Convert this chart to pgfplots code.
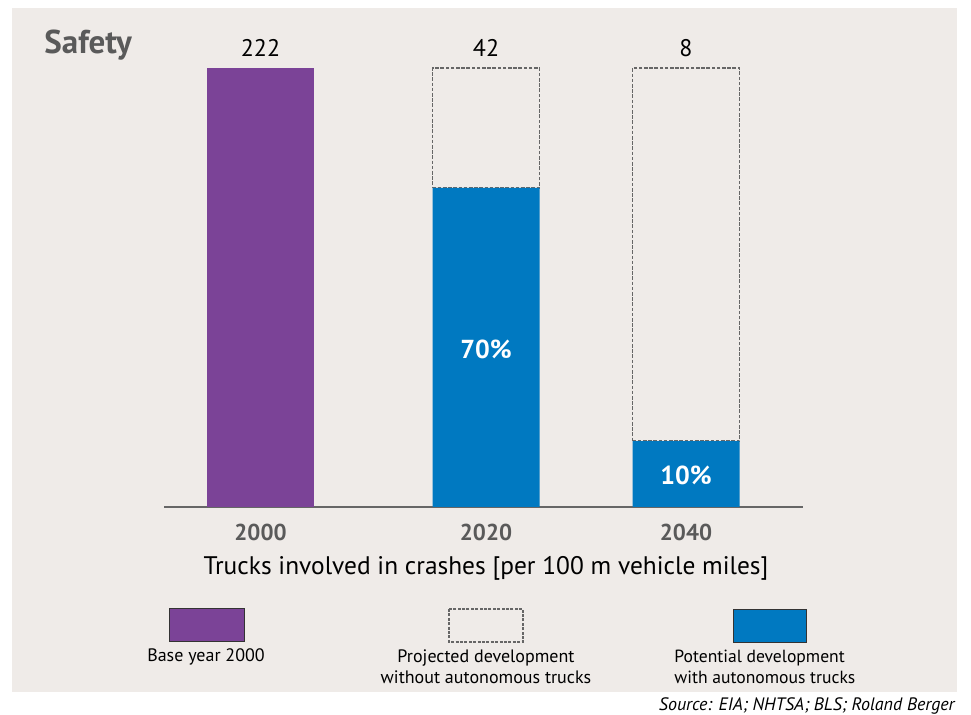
\documentclass[border=0pt]{standalone}
\usepackage{pgfplots}
\pgfplotsset{compat=1.18}
\usepackage{fontspec}
\setmainfont{PT Sans}
\definecolor{bgc}{HTML}{EFEBE8}
\definecolor{cpurple}{HTML}{7B4397}
\definecolor{cblue}{HTML}{0079C1}
\definecolor{tgray}{HTML}{5A5A5A}
\definecolor{dgray}{HTML}{666666}
\begin{document}
\begin{tikzpicture}
\begin{scope}[x=0.5pt,y=-0.5pt]
  \useasboundingbox (0,0) rectangle (971,715);
  \fill[bgc] (12,8) rectangle (957,692);
\end{scope}
\pgfplotsset{base/.style={
  at={(82pt,-253.5pt)}, anchor=south west, scale only axis,
  width=319.5pt, height=219.5pt,
  xmin=164, xmax=803, ymin=0, ymax=100, clip=false}}
% base year bar + baseline + year labels
\begin{axis}[base,
  axis x line=bottom, axis y line=none,
  axis line style={-, draw=dgray, line width=0.6pt},
  xtick={260.5,486,686}, xticklabels={2000,2020,2040},
  major tick length=0pt,
  xticklabel style={anchor=center, yshift=-12.5pt, text=tgray,
    font=\bfseries\fontsize{11.5}{12}\selectfont},
  ytick=\empty]
\addplot[ybar, bar width=53.5pt, bar shift=0pt, fill=cpurple, draw=none]
  coordinates {(260.5,100)};
\end{axis}
% projected (dashed) vs potential (blue)
\begin{axis}[base, hide axis, ybar stacked, bar width=53.5pt]
\addplot[fill=cblue, draw=none] coordinates {(486,72.7) (686,15.0)};
\addplot[fill=none, draw=dgray, line width=0.8pt, dash pattern=on 1.8pt off 0.8pt]
  coordinates {(486,27.3) (686,85.0)};
\end{axis}
\begin{scope}[x=0.5pt,y=-0.5pt]
  \node[anchor=base west, text=tgray, inner sep=0pt,
    font=\bfseries\fontsize{16.5}{18}\selectfont] at (44,54) {Safety};
  \foreach \xx/\vv in {260.5/222, 486/42, 686/8}
    \node[anchor=base, inner sep=0pt, font=\fontsize{12}{14}\selectfont] at (\xx,57) {\vv};
  \node[text=white, font=\bfseries\fontsize{13}{15}\selectfont] at (486,349) {70\%};
  \node[text=white, font=\bfseries\fontsize{13}{15}\selectfont] at (686,475) {10\%};
  \node[font=\fontsize{12.7}{15}\selectfont] at (486,568)
    {Trucks involved in crashes [per 100 m vehicle miles]};
  % legend
  \filldraw[fill=cpurple, draw=black!80, line width=0.4pt] (169,608) rectangle (244,641);
  \draw[draw=dgray, line width=0.65pt, dash pattern=on 1.5pt off 0.7pt] (449,609) rectangle (523,642);
  \filldraw[fill=cblue, draw=black!80, line width=0.4pt] (733,609) rectangle (806,642);
  \node[font=\fontsize{9}{10.5}\selectfont] at (206,657) {Base year 2000};
  \node[align=center, font=\fontsize{9}{10.5}\selectfont] at (486,667)
    {Projected development\\without autonomous trucks};
  \node[align=left, anchor=west, inner sep=0pt, font=\fontsize{8.8}{10.5}\selectfont] at (674,667)
    {Potential development\\with autonomous trucks};
  \node[anchor=base east, inner sep=0pt, font=\itshape\fontsize{9}{10}\selectfont] at (955,711)
    {Source: EIA; NHTSA; BLS; Roland Berger};
\end{scope}
\end{tikzpicture}
\end{document}
